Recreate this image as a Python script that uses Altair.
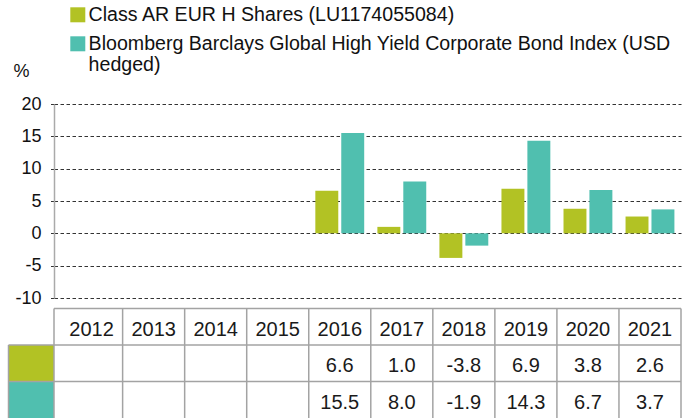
import altair as alt
import pandas as pd

years = ["2012", "2013", "2014", "2015", "2016", "2017", "2018", "2019", "2020", "2021"]
series_names = [
    "Class AR EUR H Shares (LU1174055084)",
    "Bloomberg Barclays Global High Yield Corporate Bond Index (USD hedged)",
]
series_keys = ["AR", "IDX"]
class_ar = [None, None, None, None, 6.6, 1.0, -3.8, 6.9, 3.8, 2.6]
index_vals = [None, None, None, None, 15.5, 8.0, -1.9, 14.3, 6.7, 3.7]
colors = ["#b2c224", "#50bfaf"]
y_ticks = [-10, -5, 0, 5, 10, 15, 20]

FONT = "Liberation Sans"
W = 627
H_TOP = 194
ROW_H = 36.5

# long table for bars
recs = []
for i, yr in enumerate(years):
    for name, key, vals in zip(series_names, series_keys, [class_ar, index_vals]):
        recs.append({"year": yr, "series": name, "key": key, "value": vals[i]})
df = pd.DataFrame(recs)

# table cells
cells = [{"year": yr, "row": "header", "label": yr} for yr in years]
for r in recs:
    if r["value"] is not None:
        cells.append({"year": r["year"], "row": r["key"], "label": f"{r['value']:.1f}"})
df_cells = pd.DataFrame(cells)
df_series = pd.DataFrame({"series": series_names, "row": series_keys})
df_years = pd.DataFrame({"year": years})
row_domain = ["header"] + series_keys
df_hlines = pd.DataFrame({"row": ["header", "AR"]})

xscale = alt.Scale(domain=years, paddingInner=0, paddingOuter=0.053, align=1)
color_scale = alt.Scale(domain=series_names, range=colors)
row_scale = alt.Scale(domain=row_domain, paddingInner=0, paddingOuter=0)

LINE = "#a3a3a3"

legend = alt.Legend(
    title=None,
    orient="none",
    legendX=14,
    legendY=-99,
    symbolType="square",
    symbolSize=225,
    symbolStrokeWidth=0,
    symbolOpacity=1,
    labelFont=FONT,
    labelFontSize=19.6,
    labelColor="#111",
    labelLimit=800,
    labelOffset=1,
    rowPadding=8,
    padding=0,
    labelExpr="datum.label == '" + series_names[1] + "' ? ['Bloomberg Barclays Global High Yield Corporate Bond Index (USD', 'hedged)'] : datum.label",
)

bars = alt.Chart(df).mark_bar().encode(
    x=alt.X("year:N", scale=xscale, axis=None, title=None),
    xOffset=alt.XOffset("series:N", scale=alt.Scale(domain=series_names, paddingInner=0.115, paddingOuter=0.254)),
    y=alt.Y(
        "value:Q",
        scale=alt.Scale(domain=[-10, 20], nice=False, zero=False),
        axis=alt.Axis(
            values=y_ticks,
            labelExpr="'' + datum.value",
            grid=True,
            gridDash=[3.5, 2.5],
            gridColor="#333333",
            gridWidth=1,
            ticks=True,
            tickSize=4,
            tickDash=[3.5, 2.5],
            tickColor="#333333",
            labelPadding=9,
            labelFont=FONT,
            labelFontSize=18,
            labelColor="#111",
            domainColor="#aaaaaa",
            domainWidth=1.5,
            title="%",
            titleAngle=0,
            titleAlign="left",
            titleBaseline="middle",
            titleX=-41,
            titleY=-33,
            titleFont=FONT,
            titleFontSize=18,
            titleFontWeight="normal",
            titleColor="#111",
        ),
    ),
    color=alt.Color("series:N", scale=color_scale, legend=legend),
).properties(width=W, height=H_TOP)

swatches = alt.Chart(df_series).mark_rect().encode(
    x=alt.value(-45.5),
    x2=alt.value(0),
    y=alt.Y("row:N", scale=row_scale, axis=None),
    color=alt.Color("series:N", scale=color_scale, legend=None),
)

texts = alt.Chart(df_cells).mark_text(font=FONT, fontSize=20, color="#1a1a1a", baseline="middle", dy=3).encode(
    x=alt.X("year:N", scale=xscale, axis=None),
    y=alt.Y("row:N", scale=row_scale, axis=None),
    text="label:N",
)

vlines = alt.Chart(df_years).mark_rule(color=LINE, strokeWidth=1.5).encode(
    x=alt.X("year:N", scale=xscale, axis=None, bandPosition=1),
    y=alt.value(0),
    y2=alt.value(ROW_H * 3),
)

left_line = alt.Chart(df_years.head(1)).mark_rule(color=LINE, strokeWidth=1.5).encode(
    x=alt.value(0),
    y=alt.value(0),
    y2=alt.value(ROW_H * 3),
)

swatch_left = alt.Chart(df_series.head(1)).mark_rule(color=LINE, strokeWidth=1.5).encode(
    x=alt.value(-45.5),
    y=alt.Y("row:N", scale=row_scale, axis=None, bandPosition=0),
    y2=alt.value(ROW_H * 3),
)

top_line = alt.Chart(df_hlines.head(1)).mark_rule(color=LINE, strokeWidth=1.5).encode(
    x=alt.value(0),
    x2=alt.value(W),
    y=alt.Y("row:N", scale=row_scale, axis=None, bandPosition=0),
)

hlines = alt.Chart(df_hlines).mark_rule(color=LINE, strokeWidth=1.5).encode(
    x=alt.value(-45.5),
    x2=alt.value(W),
    y=alt.Y("row:N", scale=row_scale, axis=None, bandPosition=1),
)

table = alt.layer(swatches, vlines, left_line, swatch_left, top_line, hlines, texts).properties(
    width=W, height=ROW_H * 3
)

chart = (
    alt.vconcat(bars, table, spacing=10.5, bounds="flush")
    .resolve_scale(color="shared", x="shared")
    .properties(padding={"left": 7, "top": 5, "right": 0, "bottom": 0}, background="white")
    .configure_view(stroke=None)
)

chart.save("out.html", embed_options={"renderer": "svg", "actions": False})
